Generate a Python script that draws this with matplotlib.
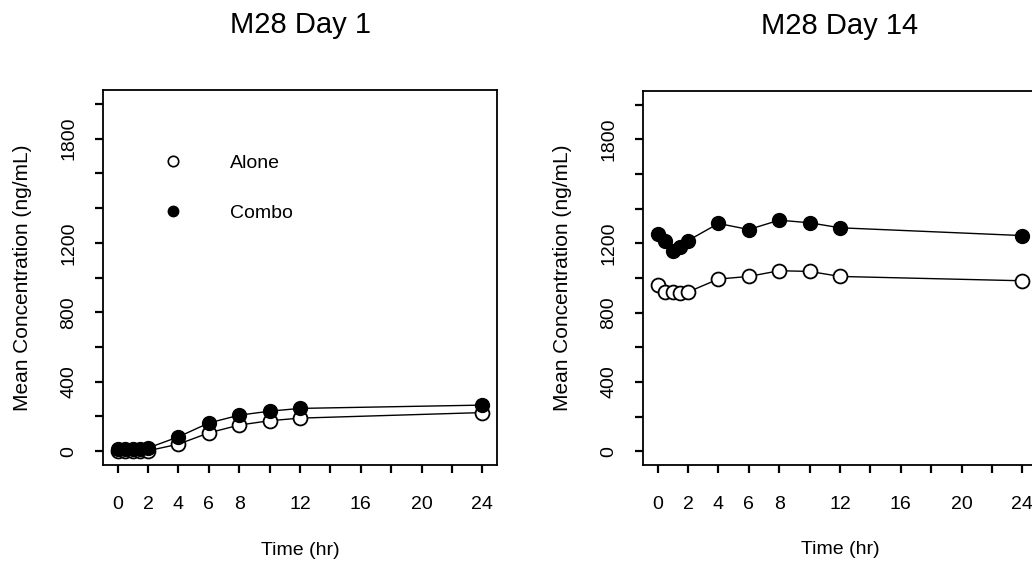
import matplotlib
matplotlib.use('Agg')
import matplotlib.pyplot as plt
from matplotlib.lines import Line2D

plt.rcParams['font.family'] = ['Liberation Sans', 'DejaVu Sans']

# sampling times (hr)
time = [0, 0.5, 1, 1.5, 2, 4, 6, 8, 10, 12, 24]

# mean concentrations (ng/mL)
day1_alone = [0, 0, 0, 0, 2, 40, 105, 150, 175, 190, 222]
day1_combo = [15, 15, 15, 15, 18, 82, 162, 207, 230, 246, 265]
day14_alone = [961, 919, 922, 913, 919, 994, 1009, 1042, 1038, 1009, 984]
day14_combo = [1255, 1216, 1158, 1180, 1216, 1315, 1280, 1334, 1319, 1290, 1245]

titles = ['M28 Day 1', 'M28 Day 14']
xticks = list(range(0, 25, 2))
xticklabels = ['0', '2', '4', '6', '8', '', '12', '', '16', '', '20', '', '24']
yticks = list(range(0, 2001, 200))
yticklabels = ['0', '', '400', '', '800', '', '1200', '', '', '1800', '']

W, H = 1032, 563
fig = plt.figure(figsize=(W / 100, H / 100), dpi=100)


def box(l, r, t, b):
    return [l / W, (H - b) / H, (r - l) / W, (b - t) / H]


ax1 = fig.add_axes(box(103, 497, 90, 465))
ax2 = fig.add_axes(box(643, 1037, 91, 465))

panels = [(ax1, day1_alone, day1_combo), (ax2, day14_alone, day14_combo)]
for i, (ax, alone, combo) in enumerate(panels):
    ax.plot(time, alone, color='black', lw=1.0, marker='o', ms=10,
            mfc='white', mec='black', mew=1.3, zorder=3)
    ax.plot(time, combo, color='black', lw=1.0, marker='o', ms=10,
            mfc='black', mec='black', zorder=3)
    ax.set_xlim(-0.96, 24.96)
    ax.set_ylim(-80, 2080)
    ax.set_xticks(xticks)
    ax.set_xticklabels(xticklabels, fontsize=14)
    ax.set_yticks(yticks)
    ax.set_yticklabels(yticklabels, fontsize=14, rotation=90, va='center')
    ax.tick_params(axis='both', direction='out', length=6, width=1.6)
    ax.tick_params(axis='x', pad=16)
    ax.tick_params(axis='y', pad=12.5)
    for s in ax.spines.values():
        s.set_linewidth(1.3)
    ax.set_title(titles[i], fontsize=21, y=1.173, va='center', pad=0)
    ax.set_xlabel('Time (hr)', fontsize=14, va='center')
    ax.xaxis.set_label_coords(0.5, -0.227)
    ax.set_ylabel('Mean Concentration (ng/mL)', fontsize=15, va='center')
    ax.yaxis.set_label_coords(-0.204, 0.5)

handles = [
    Line2D([], [], ls='none', marker='o', ms=7.5, mfc='white', mec='black', mew=1.2),
    Line2D([], [], ls='none', marker='o', ms=7.5, mfc='black', mec='black'),
]
ax1.legend(handles, ['Alone', 'Combo'], loc='upper left', bbox_to_anchor=(0.153, 0.829),
           frameon=False, fontsize=14, handlelength=1.0, handletextpad=2.45,
           labelspacing=1.68, borderpad=0, borderaxespad=0)

fig.savefig('out.png', dpi=100)
